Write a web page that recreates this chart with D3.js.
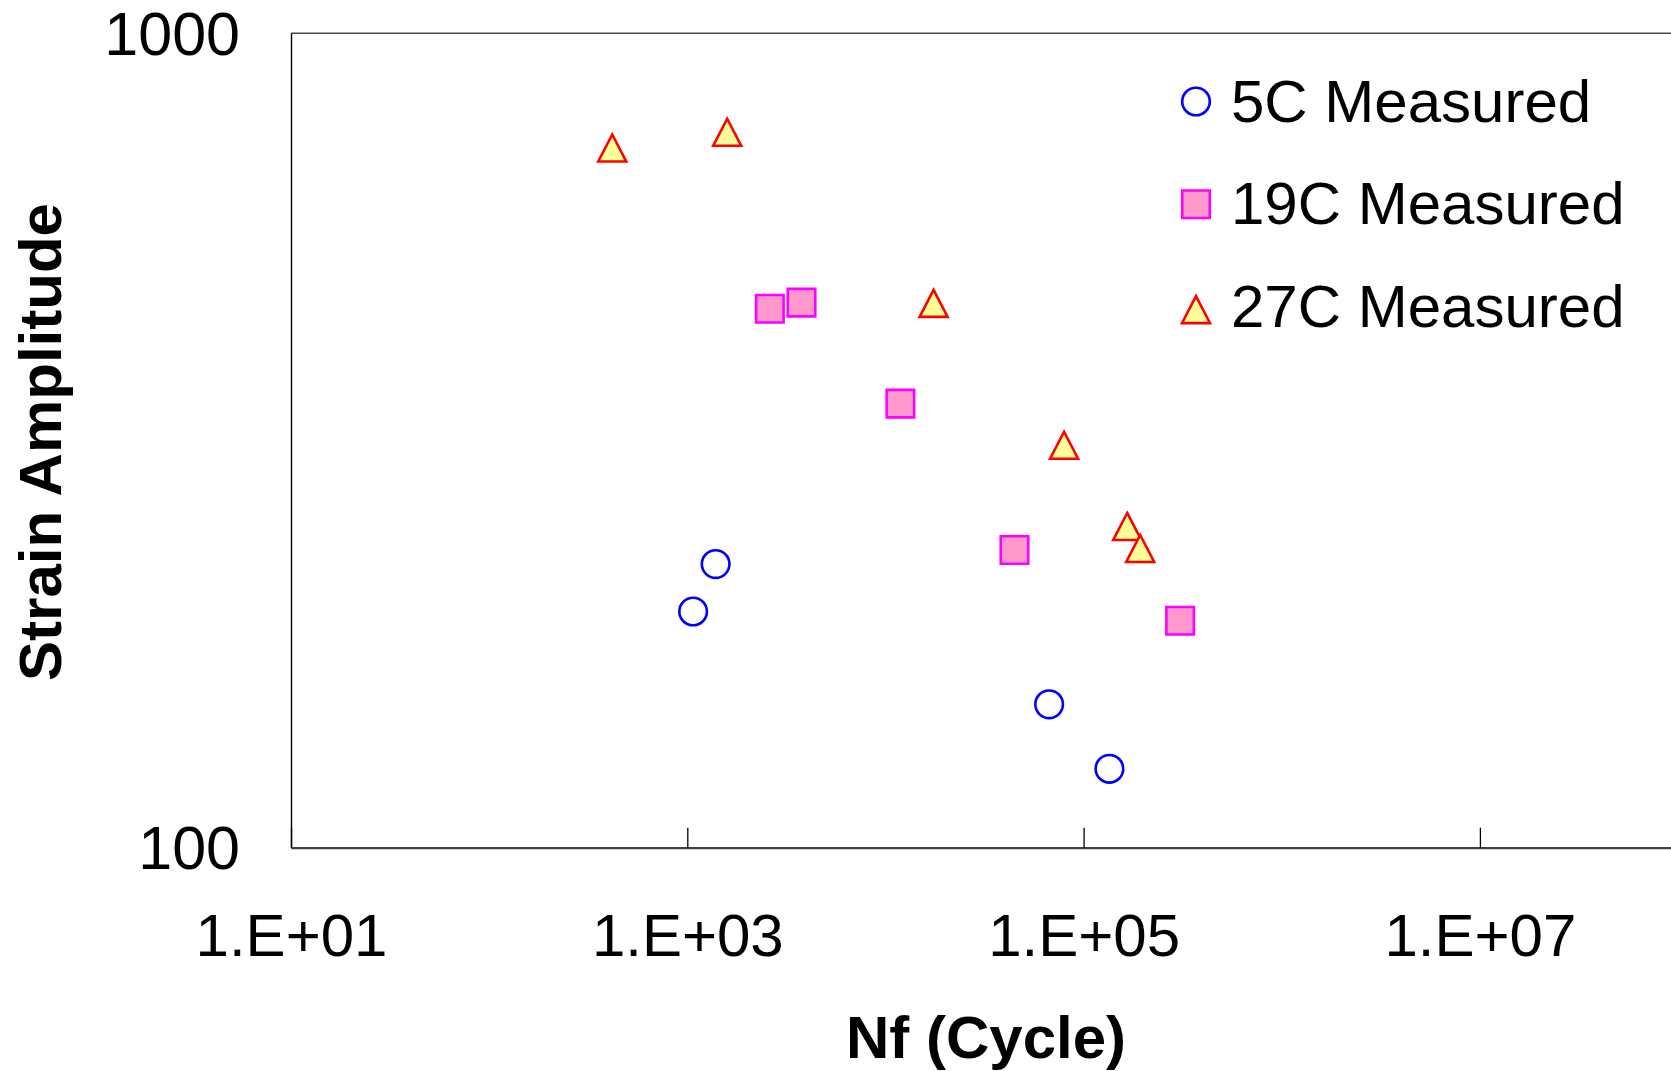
<!DOCTYPE html>
<html>
<head>
<meta charset="utf-8">
<script src="https://cdn.jsdelivr.net/npm/d3@7"></script>
<style>
  html, body { margin: 0; padding: 0; background: #fff; overflow: hidden; }
  svg { display: block; font-family: Arial, "Liberation Sans", sans-serif; }
</style>
</head>
<body>
<svg id="chart"></svg>
<script>
// ====== Data ======

// 5C Measured
const nf5C = [1070, 1390, 67000, 135000];
const strain5C = [195, 223, 150, 125];

// 19C Measured
const nf19C = [2610, 3770, 11900, 44800, 307000];
const strain19C = [459, 467, 351, 232, 190];

// 27C Measured
const nf27C = [418, 1590, 17500, 79700, 166000, 193000];
const strain27C = [723, 756, 466, 312, 248, 233];

// 1.E+09 sits past the right edge of the picture, so it is left out
const xTicks = [1e1, 1e3, 1e5, 1e7];
const yTicks = [100, 1000];
const seriesNames = ["5C Measured", "19C Measured", "27C Measured"];

// ====== Layout ======
const width = 1671;
const height = 1071;
const plotLeft = 291;
const plotTop = 33.3;
const plotBottom = 847.7;
const decade = 198.15;

const svg = d3.select("#chart").attr("width", width).attr("height", height);

// x: 1e1 .. 1e9 (plot runs past the right edge of the window)
const x = d3.scaleLog().domain([1e1, 1e9]).range([plotLeft, plotLeft + 8 * decade]);
const y = d3.scaleLog().domain([100, 1000]).range([plotBottom, plotTop]);

// marker shapes (Excel-like)
const circle = r => `M${-r},0a${r},${r} 0 1,0 ${2 * r},0a${r},${r} 0 1,0 ${-2 * r},0Z`;
const square = s => `M${-s / 2},${-s / 2}h${s}v${s}h${-s}Z`;
const triangle = (w, h) => `M0,${-h / 2}L${w / 2},${h / 2}L${-w / 2},${h / 2}Z`;

const styles = [
  { path: circle(13.8), fill: "none", stroke: "#0000ff" },
  { path: square(27.5), fill: "#ff99cc", stroke: "#ff00ff" },
  { path: triangle(28, 27), fill: "#ffff99", stroke: "#ff0000" },
];

const series = [
  nf5C.map((n, i) => ({ n, s: strain5C[i] })),
  nf19C.map((n, i) => ({ n, s: strain19C[i] })),
  nf27C.map((n, i) => ({ n, s: strain27C[i] })),
];

// ====== Frame ======
// top border of the plot area
svg.append("line")
  .attr("x1", plotLeft).attr("x2", width)
  .attr("y1", plotTop).attr("y2", plotTop)
  .attr("stroke", "#4a4a4a").attr("stroke-width", 1.5);

// ====== Axes ======
const fmtX = d => "1.E+" + String(Math.round(Math.log10(d))).padStart(2, "0");

const gx = svg.append("g")
  .attr("transform", `translate(0,${plotBottom})`)
  .call(d3.axisBottom(x).tickValues(xTicks).tickFormat(fmtX).tickSizeInner(-20).tickSizeOuter(0));
gx.select(".domain").attr("stroke", "#404040").attr("stroke-width", 2.2);
gx.selectAll(".tick line").attr("stroke", "#000").attr("stroke-width", 1.3);
gx.selectAll(".tick text")
  .attr("y", 108).attr("dy", null)
  .attr("fill", "#000")
  .style("font-size", "60px");

const gy = svg.append("g")
  .attr("transform", `translate(${plotLeft},0)`)
  .call(d3.axisLeft(y).tickValues(yTicks).tickFormat(d3.format("d")).tickSize(0).tickPadding(51));
gy.select(".domain").attr("stroke", "#000").attr("stroke-width", 1.4);
gy.selectAll(".tick text")
  .attr("dy", null).attr("y", 21)
  .attr("fill", "#000")
  .style("font-size", "61px");

// axis titles
svg.append("text")
  .attr("x", 986).attr("y", 1058)
  .attr("text-anchor", "middle")
  .style("font-size", "60px").style("font-weight", "bold")
  .text("Nf (Cycle)");

svg.append("text")
  .attr("transform", "translate(61,442) rotate(-90)")
  .attr("text-anchor", "middle")
  .style("font-size", "60px").style("font-weight", "bold")
  .text("Strain Amplitude");

// ====== Points ======
series.forEach((pts, k) => {
  svg.append("g").selectAll("path")
    .data(pts)
    .join("path")
    .attr("d", styles[k].path)
    .attr("transform", d => `translate(${x(d.n)},${y(d.s)})`)
    .attr("fill", styles[k].fill)
    .attr("stroke", styles[k].stroke)
    .attr("stroke-width", 2.6);
});

// ====== Legend ======
const legend = svg.append("g");
seriesNames.forEach((name, k) => {
  const cy = 101.5 + k * 102.8;
  legend.append("path")
    .attr("d", styles[k].path)
    .attr("transform", `translate(1196,${cy + (k === 2 ? 2.5 : 0)})`)
    .attr("fill", styles[k].fill)
    .attr("stroke", styles[k].stroke)
    .attr("stroke-width", 2.6);
  legend.append("text")
    .attr("x", 1231).attr("y", cy + 20)
    .style("font-size", "60px")
    .text(name);
});
</script>
</body>
</html>
